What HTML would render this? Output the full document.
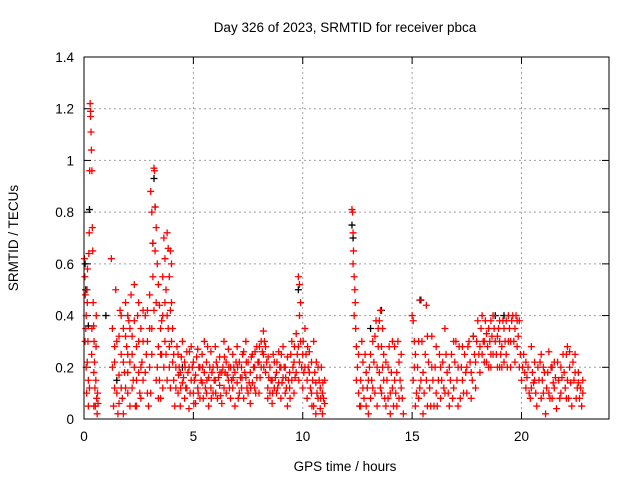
<!DOCTYPE html>
<html><head><meta charset="utf-8"><style>
body{margin:0;background:#fff;}
svg{display:block;font-family:"Liberation Sans",sans-serif;}
</style></head><body>
<svg id="chart" width="640" height="480" viewBox="0 0 640 480">
<rect width="640" height="480" fill="#fff"/>
<text x="345" y="32" font-size="13.5" text-anchor="middle">Day 326 of 2023, SRMTID for receiver pbca</text>
<text transform="translate(18,238) rotate(-90)" font-size="13.5" text-anchor="middle">SRMTID / TECUs</text>
<text x="345" y="471" font-size="13.5" text-anchor="middle">GPS time / hours</text>
<g id="grid"></g>
<g id="ticks"></g>
<g id="black"></g>
<g id="red"></g>
<rect x="84" y="57" width="525" height="362" fill="none" stroke="#000" stroke-width="1"/>
</svg>
<script>
const xTicks=[0,5,10,15,20];
const yTicks=[0,0.2,0.4,0.6,0.8,1,1.2,1.4];
const yTickLabels=["0","0.2","0.4","0.6","0.8","1","1.2","1.4"];
const redPoints=[
[0.02,.62],[0.04,.55],[0.06,.48],[0.08,.35],[0.1,.2],[0.12,.1],[0.14,.5],[0.16,.58],[0.18,.3],[0.2,.15],[0.22,.64],[0.24,.72],[0.26,.96],[0.28,1.22],[0.3,1.19],[0.3,1.17],[0.32,1.11],[0.34,1.04],[0.36,.96],[0.38,.74],[0.4,.65],[0.42,.45],[0.44,.36],[0.46,.3],[0.48,.22],[0.5,.12],[0.52,.05],[0.54,.15],[0.56,.4],[0.58,.08],[0.6,.02],[0.62,.1],[0.64,.06],[0.1,.4],[0.2,.05],[0.36,.35],
[1.25,.62],[1.3,.2],[1.35,.05],[1.4,.12],[1.45,.5],[1.5,.3],[1.55,.02],[1.6,.17],[1.65,.42],[1.7,.25],[1.75,.08],[1.8,.35],[1.85,.18],[1.9,.45],[1.95,.28],[2.0,.1],[2.05,.38],[2.1,.22],[2.15,.48],[2.2,.32],[2.25,.15],[2.3,.52],[2.35,.05],[2.4,.28],[2.45,.4],[2.5,.18],[2.55,.1],[2.6,.35],[2.65,.22],[2.7,.3],[1.5,.1],[1.7,.4],[1.9,.12],[2.1,.05],[2.3,.2],[2.5,.3],[2.7,.15],[2.0,.25],[1.8,.02],
[2.8,.4],[2.85,.25],[2.9,.1],[2.95,.05],[3.0,.48],[3.05,.88],[3.1,.8],[3.15,.68],[3.2,.97],[3.22,.96],[3.25,.82],[3.3,.74],[3.35,.6],[3.4,.52],[3.45,.44],[3.5,.35],[3.55,.25],[3.6,.4],[3.65,.7],[3.7,.62],[3.75,.5],[3.8,.72],[3.85,.66],[3.9,.55],[3.95,.42],[4.0,.3],[4.05,.22],[4.1,.15],[4.15,.05],[4.2,.12],[4.25,.28],[2.9,.3],[3.0,.2],[3.1,.35],[3.3,.15],[3.5,.08],[3.7,.3],[3.9,.2],[4.0,.45],[3.4,.28],[3.6,.12],[3.2,.42],[3.05,.1],
[4.3,.25],[4.3,.1],[4.4,.18],[4.4,.05],[4.5,.3],[4.5,.14],[4.6,.22],[4.6,.08],[4.7,.12],[4.7,.26],[4.8,.2],[4.8,.04],[4.9,.28],[4.9,.15],[5.0,.1],[5.0,.22],[5.1,.17],[5.1,.06],[5.2,.27],[5.2,.12],[5.3,.2],[5.3,.08],[5.4,.14],[5.4,.25],[5.5,.3],[5.5,.18],[5.6,.1],[5.6,.22],[5.7,.16],[5.7,.05],[5.8,.26],[5.8,.12],[5.9,.2],[5.9,.1],[6.0,.28],[6.0,.15],[6.1,.08],[6.1,.2],[6.2,.24],[6.2,.13],[6.3,.18],[6.3,.06],[6.4,.3],[6.4,.12],[6.5,.22],[6.5,.1],[6.6,.15],[6.6,.27],[6.7,.2],[6.7,.08],[6.8,.12],[6.8,.25],[6.9,.18],[6.9,.05],[7.0,.28],[7.0,.14],[7.1,.1],[7.1,.22],[7.2,.2],[7.2,.12],[7.3,.26],[7.3,.08],[7.4,.16],[7.4,.3],[7.5,.22],[7.5,.1],[7.6,.06],[7.6,.18],[7.7,.25],[7.7,.14],[7.8,.12],[7.8,.2],[7.9,.28],[7.9,.16],[8.0,.22],[8.0,.1],[8.1,.3],[8.1,.2],[8.2,.34],[8.2,.25],[8.3,.28],[8.3,.18],[8.4,.12],[8.4,.08],[8.5,.2],[8.5,.1],[8.6,.15],[8.6,.06],[8.7,.22],[8.7,.12],[8.8,.1],[8.8,.18],[8.9,.26],[8.9,.14],[9.0,.2],[9.0,.08],[9.1,.16],[9.1,.28],[9.2,.1],[9.2,.2],[9.3,.24],[9.3,.05],[9.4,.18],[9.4,.12],[9.5,.3],[9.5,.15],[9.6,.22],[9.6,.1],[9.7,.33],[9.7,.18],[9.8,.55],[9.8,.28],[9.85,.52],[9.85,.4],[9.9,.45],[9.9,.3],[10.0,.25],[10.0,.12],[10.1,.2],[10.1,.35],[10.2,.15],[10.2,.08],[10.3,.26],[10.3,.18],[10.4,.1],[10.4,.22],[10.5,.05],[10.5,.3],[10.6,.14],[10.6,.02],[10.7,.2],[10.7,.08],[10.8,.12],[10.8,.04],[10.9,.1],[10.9,.02],[11.0,.06],[11.0,.15],
[4.35,.2],[4.55,.16],[4.75,.18],[4.95,.2],[5.15,.24],[5.35,.15],[5.55,.12],[5.75,.2],[5.95,.15],[6.15,.16],[6.35,.2],[6.55,.17],[6.75,.15],[6.95,.22],[7.15,.16],[7.35,.18],[7.55,.14],[7.75,.2],[7.95,.22],[8.15,.26],[8.35,.22],[8.55,.15],[8.75,.16],[8.95,.2],[9.15,.2],[9.35,.15],[9.55,.2],[9.75,.25],[9.95,.2],[10.15,.25],[10.35,.12],[10.55,.18],[10.75,.15],[10.95,.08],
[12.25,.81],[12.28,.8],[12.3,.72],[12.32,.65],[12.35,.55],[12.38,.5],[12.4,.45],[12.42,.35],[12.45,.28],[12.5,.2],[12.55,.1],[12.6,.05],[12.65,.15],[12.7,.3],[12.75,.22],[12.8,.08],[12.9,.18],[13.0,.02],[13.1,.25],[13.2,.12],[13.3,.32],[13.4,.2],[13.5,.38],[13.55,.42],[13.6,.28],[13.7,.15],[13.8,.05],[13.9,.2],[14.0,.1],[14.1,.3],[14.2,.15],[14.3,.05],[14.4,.22],[14.5,.12],[14.6,.02],[13.0,.15],[13.2,.3],[13.4,.05],[13.6,.1],[13.8,.22],[14.0,.02],[14.2,.28],[14.4,.08],[12.9,.05],[13.1,.08],[13.3,.1],[13.5,.18],[13.7,.25],[13.9,.08],[14.1,.12],[14.3,.18],[14.5,.25],
[15.0,.4],[15.05,.38],[15.1,.2],[15.15,.05],[15.2,.1],[15.3,.3],[15.35,.46],[15.4,.15],[15.5,.02],[15.6,.25],[15.65,.44],[15.7,.32],[15.8,.12],[15.9,.2],[16.0,.05],[16.1,.28],[16.2,.15],[16.3,.08],[16.4,.22],[16.5,.35],[16.6,.18],[16.7,.05],[16.8,.25],[16.9,.12],[17.0,.3],[17.1,.2],[17.2,.08],[17.3,.15],[17.4,.25],[17.5,.1],[17.6,.3],[17.7,.18],[17.8,.32],[17.9,.22],[18.0,.38],[18.1,.28],[18.2,.4],[18.3,.3],[18.4,.22],[18.5,.35],[18.6,.25],[18.7,.4],[18.8,.3],[18.9,.2],[19.0,.38],[19.1,.28],[19.2,.35],[19.3,.25],[19.4,.3],[19.5,.2],[19.6,.4],[19.7,.35],[19.8,.28],[19.9,.2],[20.0,.15],
[15.1,.3],[15.3,.08],[15.5,.18],[15.7,.05],[15.9,.32],[16.1,.1],[16.3,.2],[16.5,.1],[16.7,.2],[16.9,.3],[17.1,.05],[17.3,.28],[17.5,.2],[17.7,.08],[17.9,.12],[18.1,.18],[18.3,.22],[18.5,.2],[18.7,.25],[18.9,.32],[19.1,.2],[19.3,.38],[19.5,.3],[19.7,.22],[19.9,.38],[18.4,.33],[18.6,.38],[19.0,.3],[19.2,.22],
[20.1,.25],[20.2,.12],[20.3,.2],[20.4,.08],[20.5,.18],[20.6,.22],[20.7,.05],[20.8,.15],[20.9,.25],[21.0,.1],[21.1,.02],[21.2,.18],[21.3,.08],[21.4,.2],[21.5,.12],[21.6,.04],[21.7,.15],[21.8,.1],[21.9,.25],[22.0,.12],[22.1,.28],[22.2,.2],[22.3,.05],[22.4,.15],[22.5,.08],[22.6,.18],[22.7,.12],[22.8,.15],
[20.15,.18],[20.35,.1],[20.55,.14],[20.75,.2],[20.95,.15],[21.15,.12],[21.35,.2],[21.55,.16],[21.75,.08],[21.95,.18],[22.15,.08],[22.35,.22],[22.55,.12],[22.75,.05],[20.45,.28],[21.25,.26],[22.05,.25],[22.45,.25]
];
const redPointsExtra=[
[0.05,.3],[0.15,.22],[0.25,.12],[0.35,.25],[0.45,.18],[0.55,.28],[0.15,.45],[0.45,.05],
[1.3,.35],[1.4,.28],[1.6,.32],[1.7,.12],[1.8,.22],[1.9,.32],[2.0,.4],[2.1,.35],[2.2,.12],[2.3,.38],[2.4,.15],[2.5,.45],[2.6,.08],[2.7,.42],[1.6,.06],[2.2,.25],[2.4,.05],[2.6,.2],[1.4,.22],[2.0,.18],
[2.8,.18],[2.9,.42],[3.0,.35],[3.1,.25],[3.15,.55],[3.25,.65],[3.3,.45],[3.35,.2],[3.45,.15],[3.5,.25],[3.55,.38],[3.6,.55],[3.7,.45],[3.75,.25],[3.8,.15],[3.85,.35],[3.9,.28],[3.95,.12],[4.05,.35],[4.1,.25],[4.2,.2],[3.4,.08],[3.65,.2],[3.8,.4],[4.0,.6],[3.95,.65],
[4.32,.17],[4.45,.24],[4.65,.12],[4.85,.1],[5.05,.15],[5.25,.2],[5.45,.08],[5.65,.28],[5.85,.18],[6.05,.22],[6.25,.09],[6.45,.18],[6.65,.12],[6.85,.2],[7.05,.08],[7.25,.25],[7.45,.12],[7.65,.24],[7.85,.1],[8.05,.16],[8.25,.3],[8.45,.16],[8.65,.25],[8.85,.12],[9.05,.14],[9.25,.12],[9.45,.25],[9.65,.16],[9.85,.22],[10.05,.18],[10.25,.2],[10.45,.15],[10.65,.1],[10.85,.2],
[4.42,.12],[4.62,.2],[4.82,.26],[5.02,.06],[5.22,.1],[5.42,.2],[5.62,.15],[5.82,.08],[6.02,.1],[6.22,.18],[6.42,.24],[6.62,.2],[6.82,.16],[7.02,.2],[7.22,.16],[7.42,.22],[7.62,.12],[7.82,.26],[8.02,.28],[8.22,.2],[8.42,.24],[8.62,.1],[8.82,.22],[9.02,.25],[9.22,.16],[9.42,.08],[9.62,.28],[9.82,.15],[10.02,.3],[10.22,.28],[10.42,.05],[10.62,.22],[10.82,.08],[10.92,.14],
[12.3,.6],[12.35,.4],[12.45,.15],[12.55,.25],[12.65,.05],[12.75,.12],[12.85,.25],[12.95,.12],[13.05,.2],[13.15,.15],[13.25,.22],[13.35,.38],[13.45,.28],[13.55,.12],[13.65,.35],[13.75,.08],[13.85,.15],[13.95,.28],[14.05,.18],[14.15,.05],[14.25,.1],[14.35,.3],[14.45,.15],[14.55,.08],[13.45,.35],[13.65,.2],
[15.05,.15],[15.15,.25],[15.25,.2],[15.35,.12],[15.45,.3],[15.55,.1],[15.65,.15],[15.75,.22],[15.85,.05],[15.95,.15],[16.05,.2],[16.15,.05],[16.25,.25],[16.35,.15],[16.45,.12],[16.55,.25],[16.65,.1],[16.75,.15],[16.85,.08],[16.95,.22],[17.05,.15],[17.15,.28],[17.25,.2],[17.35,.1],[17.45,.18],[17.55,.28],[17.65,.22],[17.75,.15],[17.85,.25],[17.95,.3],[18.05,.25],[18.15,.35],[18.25,.3],[18.35,.38],[18.45,.28],[18.55,.3],[18.65,.32],[18.75,.35],[18.85,.25],[18.95,.35],[19.05,.25],[19.15,.38],[19.25,.3],[19.35,.2],[19.45,.35],[19.55,.38],[19.65,.3],[19.75,.4],[19.85,.32],[19.95,.25],[18.2,.25],[18.6,.2],[19.0,.2],[19.4,.4],[19.8,.38],
[20.05,.2],[20.25,.16],[20.45,.12],[20.65,.1],[20.85,.22],[21.05,.18],[21.25,.1],[21.45,.14],[21.65,.22],[21.85,.16],[22.05,.08],[22.25,.14],[22.45,.18],[22.65,.08],[22.8,.1],[20.2,.22],[20.6,.15],[21.0,.2],[21.4,.08],[21.8,.2],[22.2,.26],[22.6,.14],[22.1,.15],[21.5,.22],[20.9,.08]
];
const blackPoints=[[0.05,.6],[0.08,.5],[0.25,.81],[0.2,.36],[3.15,.68],[3.2,.93],[3.25,.82],[12.25,.75],[12.3,.7],[13.6,.42],[15.4,.46],[17.8,.32],[19.2,.4],[1.5,.15],[4.5,.2],[9.8,.5],[1.0,.4],[13.1,.35],[18.8,.4]];

const X0=84,X1=609,Y0=419,Y1=57,XMAX=24,YMAX=1.4;
function xs(h){return X0+(X1-X0)*h/XMAX;}
function ys(v){return Y0-(Y0-Y1)*v/YMAX;}
const NS="http://www.w3.org/2000/svg";
function mk(tag,attrs,parent){const e=document.createElementNS(NS,tag);for(const k in attrs)e.setAttribute(k,attrs[k]);parent.appendChild(e);return e;}
const grid=document.getElementById('grid'),ticks=document.getElementById('ticks');
xTicks.forEach(t=>{const x=xs(t);
 if(t>0){const g=mk('line',{x1:x,y1:Y1,x2:x,y2:Y0,stroke:'#a0a0a0','stroke-dasharray':'2,3'},grid);
 
 }
 mk('line',{x1:x,y1:Y0,x2:x,y2:Y0-7,stroke:'#000'},ticks);
 mk('line',{x1:x,y1:Y1,x2:x,y2:Y1+7,stroke:'#000'},ticks);
 const l=mk('text',{x:x,y:Y0+22,'font-size':'13.5','text-anchor':'middle'},ticks);l.textContent=String(t);
 
 
});
yTicks.forEach((t,i)=>{const y=ys(t);
 if(t>0&&t<YMAX){const g=mk('line',{x1:X0,y1:y,x2:X1,y2:y,stroke:'#a0a0a0','stroke-dasharray':'2,3'},grid);
 
 }
 mk('line',{x1:X0,y1:y,x2:X0+7,y2:y,stroke:'#000'},ticks);
 mk('line',{x1:X1,y1:y,x2:X1-7,y2:y,stroke:'#000'},ticks);
 const l=mk('text',{x:X0-10,y:y+5,'font-size':'13.5','text-anchor':'end'},ticks);l.textContent=yTickLabels[i];
 
 
});
function plot(pts,gid,col){const g=document.getElementById(gid);
 pts.forEach(p=>{const x=xs(p[0]),y=ys(p[1]);
  const m=mk('path',{d:`M${x-3.5} ${y}H${x+3.5}M${x} ${y-3.5}V${y+3.5}`,stroke:col,'stroke-width':1.3,fill:'none'},g);
  
  
 });}
plot(blackPoints,'black','#000');
plot(redPoints,'red','#ff0000');
plot(redPointsExtra,'red','#ff0000');
</script>
</body></html>
